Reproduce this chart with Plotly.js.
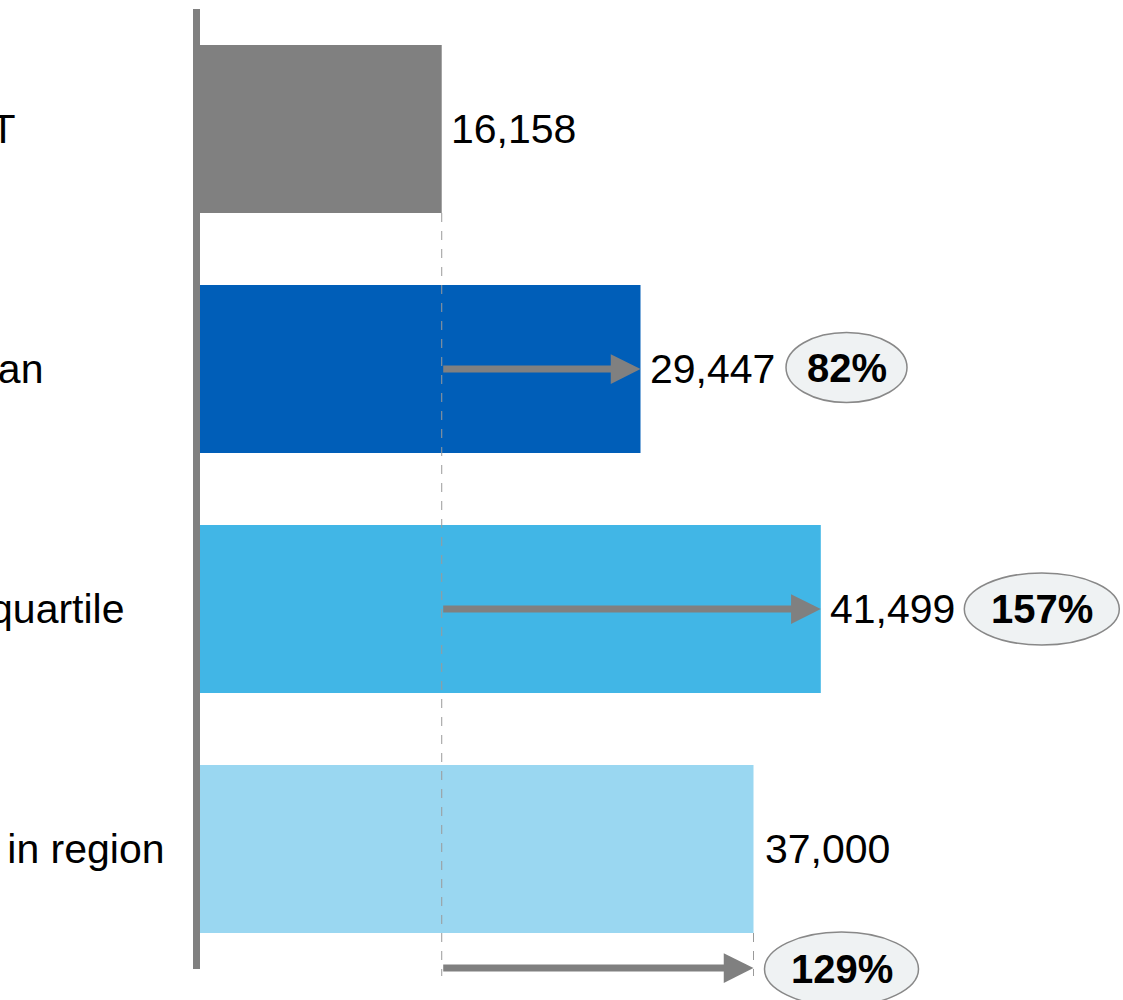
<!DOCTYPE html>
<html>
<head>
<meta charset="utf-8">
<script src="https://cdn.plot.ly/plotly-3.0.1.min.js"></script>
<style>html,body{margin:0;padding:0;background:#fff;overflow:hidden}</style>
</head>
<body>
<div id="chart" style="width:1123px;height:1000px"></div>
<script>
// ---- data ----
const categories = ['NLW FT', 'Median', 'Upper quartile', 'Highest paid in region'];
const salaries = [16158, 29447, 41499, 37000];
const valueLabels = ['16,158', '29,447', '41,499', '37,000'];
const pctLabels = ['', '82%', '157%', '129%'];
const barColors = ['#808080', '#005EB8', '#41B6E6', '#9AD7F1'];

// ---- geometry helpers ----
const W = 1123, H = 1000, L = 200, T = 9;
const XMAX = 61700;
const plotW = W - L;
const k = plotW / XMAX;             // px per unit
const catPx = 240;                  // px per category
const yBottom = -0.5 + (H - T) / catPx;
const dx = px => px / k;            // pixel offset -> data offset
const dy = px => px / catPx;

const font = 'Liberation Sans, Arial, sans-serif';
const grey = '#808080';
const base = salaries[0];

const annotations = [];
const shapes = [];

// axis line
shapes.push({type: 'line', xref: 'paper', yref: 'y', x0: -3.5 / plotW, x1: -3.5 / plotW,
  y0: -0.5, y1: 3.5, line: {color: grey, width: 7}, layer: 'above'});

// dashed reference lines
shapes.push({type: 'line', xref: 'x', yref: 'y', x0: base, x1: base, y0: 0.35, y1: 3.5 + dy(7),
  line: {color: '#9a9a9a', width: 1, dash: 'dash'}, layer: 'above'});
shapes.push({type: 'line', xref: 'x', yref: 'y', x0: salaries[3], x1: salaries[3], y0: 3.35, y1: 3.5 + dy(7),
  line: {color: '#9a9a9a', width: 1, dash: 'dash'}, layer: 'above'});

// category labels (left, partially cut in reference)
const labelEnds = [18, 45, 127, 167];
categories.forEach((c, i) => {
  annotations.push({xref: 'paper', yref: 'y', x: (labelEnds[i] - L) / plotW, y: i,
    xanchor: 'right', yanchor: 'middle', text: c, showarrow: false,
    font: {family: font, size: 41, color: '#000'}});
});

// value labels
salaries.forEach((v, i) => {
  annotations.push({xref: 'x', yref: 'y', x: v, y: i, xanchor: 'left', yanchor: 'middle',
    xshift: i === 3 ? 9 : 7, text: valueLabels[i], showarrow: false,
    font: {family: font, size: 41, color: '#000'}});
});

// arrows
const arrowRows = [[1, 1], [2, 2], [3, 3.5 - dy(1)]];
arrowRows.forEach(([i, yy]) => {
  annotations.push({xref: 'x', yref: 'y', axref: 'x', ayref: 'y', x: salaries[i], y: yy,
    ax: base, ay: yy, text: '', showarrow: true, arrowhead: 2, arrowsize: 0.85,
    arrowwidth: 7, arrowcolor: grey, standoff: 0});
});

// percentage ellipses
const ell = [
  null,
  {cx: dx(206), cy: 1 - dy(1.5), w: 121, h: 70},
  {cx: dx(221), cy: 2, w: 155, h: 72},
  {cx: dx(88), cy: 3.5 - dy(0), w: 154, h: 74}
];
for (let i = 1; i < 4; i++) {
  const e = ell[i];
  const cx = salaries[i] + e.cx;
  shapes.push({type: 'circle', xref: 'x', yref: 'y',
    x0: cx - dx(e.w / 2), x1: cx + dx(e.w / 2), y0: e.cy - dy(e.h / 2), y1: e.cy + dy(e.h / 2),
    fillcolor: '#EFF2F3', line: {color: '#888888', width: 1.5}, layer: 'above'});
  annotations.push({xref: 'x', yref: 'y', x: cx, y: e.cy, xanchor: 'center', yanchor: 'middle',
    text: '<b>' + pctLabels[i] + '</b>', showarrow: false,
    font: {family: font, size: 40, color: '#000'}});
}

const trace = {
  type: 'bar', orientation: 'h',
  x: salaries, y: categories,
  marker: {color: barColors, line: {width: 0}},
  hoverinfo: 'skip'
};

const layout = {
  width: W, height: H,
  margin: {l: L, r: 0, t: T, b: 0, pad: 0},
  paper_bgcolor: '#fff', plot_bgcolor: '#fff',
  showlegend: false, bargap: 0.3,
  xaxis: {range: [0, XMAX], showgrid: false, zeroline: false, showticklabels: false, showline: false, fixedrange: true},
  yaxis: {type: 'category', categoryorder: 'array', categoryarray: categories,
    range: [yBottom, -0.5], showgrid: false, zeroline: false, showticklabels: false, showline: false, fixedrange: true},
  shapes: shapes, annotations: annotations
};

Plotly.newPlot('chart', [trace], layout, {staticPlot: true, displayModeBar: false});
</script>
</body>
</html>
